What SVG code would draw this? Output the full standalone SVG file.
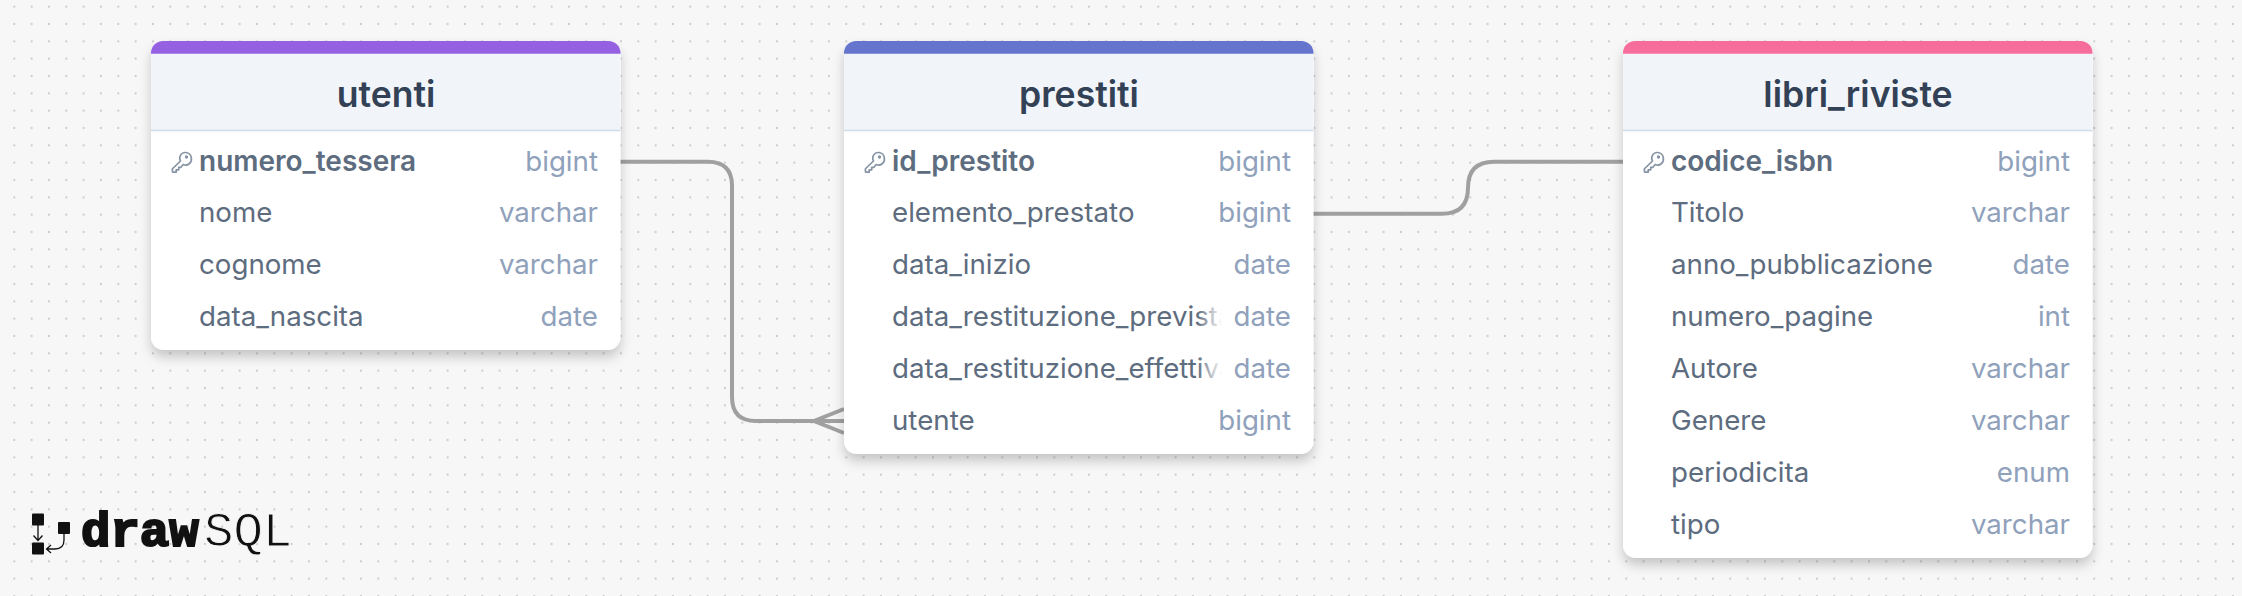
<svg xmlns="http://www.w3.org/2000/svg" xmlns:xlink="http://www.w3.org/1999/xlink" width="2242" height="596" viewBox="0 0 2242 596">
<style>
.card{fill:#fff;filter:url(#sh)}
.hd{fill:#f1f5f9}
.ln{stroke:#cfdcea;stroke-width:1.5;fill:none}
text{font-family:Inter,"Liberation Sans",sans-serif}
.t{font-size:35.6px;font-weight:600;fill:#334156;text-anchor:middle}
.f{font-size:27.7px;fill:#5d6c7e}
.k{font-size:28px;font-weight:600}
.y{font-size:27.7px;fill:#8fa1bb;text-anchor:end}
.c{fill:none;stroke:#a0a0a0;stroke-width:4}
.key{fill:none;stroke:#8593a4;stroke-width:1.7;stroke-linejoin:round;stroke-linecap:round}
.lg{font-family:"Liberation Mono",monospace;font-size:49px;fill:#111}
</style>
<defs>
<pattern id="dots" width="17.333" height="17.333" patternUnits="userSpaceOnUse" x="5.64" y="-1.97">
<circle cx="8.67" cy="8.67" r="1.1" fill="#cbcbcb"/>
</pattern>
<filter id="sh" x="-10%" y="-10%" width="120%" height="125%">
<feDropShadow dx="0" dy="7" stdDeviation="6" flood-color="#000" flood-opacity=".2"/>
</filter>
<linearGradient id="fade"><stop offset="0" stop-color="#fff" stop-opacity="0"/><stop offset="1" stop-color="#fff"/></linearGradient>
<clipPath id="cp"><rect x="880" y="280" width="342" height="120"/></clipPath>
<symbol id="ik" viewBox="0 0 20 20" overflow="visible">
<path class="key" d="M19.800 6a5.800 5.800 0 0 0-11.400-1.200 5.800 5.800 0 0 0 .6 4.200L1.200 16.500a1 1 0 0 0-.3.7v2a1 1 0 0 0 1 1h2.800v-2.400h2.500v-2.500h2.200l2.300-2.800a5.800 5.800 0 0 0 8.100-6.500z"/>
<circle class="key" cx="15" cy="5" r=".8"/>
</symbol>
</defs>
<rect width="2242" height="596" fill="#f7f7f7"/>
<rect width="2242" height="596" fill="url(#dots)"/>

<g id="connectors">
<path class="c" d="M620 161.700H708Q732 161.700 732 185.700V397Q732 421 756 421H844"/>
<path class="c" d="M844 409L814 421L844 433"/>
<path class="c" d="M1313 213.700H1442Q1468 213.700 1468 187.700Q1468 161.700 1494 161.700H1623"/>
</g>

<g id="utenti">
<rect class="card" x="151" y="41" width="469.500" height="309" rx="13"/>
<rect class="hd" x="151" y="53" width="469.500" height="77"/>
<path d="M151 53.700V53a12 12 0 0 1 12-12H608.500a12 12 0 0 1 12 12v.7z" fill="#9561e2"/>
<path class="ln" d="M151 130.500H620.500"/>
<text class="t" x="386" y="106.700">utenti</text>
<use xlink:href="#ik" href="#ik" x="171.500" y="152" width="20" height="20"/>
<text class="f k" x="199" y="170.500">numero_tessera</text><text class="y" x="598" y="170.500">bigint</text>
<text class="f" x="199" y="222">nome</text><text class="y" x="598" y="222">varchar</text>
<text class="f" x="199" y="274">cognome</text><text class="y" x="598" y="274">varchar</text>
<text class="f" x="199" y="326">data_nascita</text><text class="y" x="598" y="326">date</text>
</g>

<g id="prestiti">
<rect class="card" x="844" y="41" width="469.500" height="413" rx="13"/>
<rect class="hd" x="844" y="53" width="469.500" height="77"/>
<path d="M844 53.700V53a12 12 0 0 1 12-12H1301.500a12 12 0 0 1 12 12v.7z" fill="#6574cd"/>
<path class="ln" d="M844 130.500H1313.500"/>
<text class="t" x="1079" y="106.700">prestiti</text>
<use xlink:href="#ik" href="#ik" x="864.500" y="152" width="20" height="20"/>
<text class="f k" x="892" y="170.500">id_prestito</text><text class="y" x="1291" y="170.500">bigint</text>
<text class="f" x="892" y="222">elemento_prestato</text><text class="y" x="1291" y="222">bigint</text>
<text class="f" x="892" y="274">data_inizio</text><text class="y" x="1291" y="274">date</text>
<g clip-path="url(#cp)">
<text class="f" x="892" y="326">data_restituzione_prevista</text>
<text class="f" x="892" y="378">data_restituzione_effettiva</text>
<rect x="1197" y="295" width="25" height="100" fill="url(#fade)"/>
</g>
<text class="y" x="1291" y="326">date</text>
<text class="y" x="1291" y="378">date</text>
<text class="f" x="892" y="430">utente</text><text class="y" x="1291" y="430">bigint</text>
</g>

<g id="libri_riviste">
<rect class="card" x="1623" y="41" width="469.500" height="517" rx="13"/>
<rect class="hd" x="1623" y="53" width="469.500" height="77"/>
<path d="M1623 53.700V53a12 12 0 0 1 12-12H2080.500a12 12 0 0 1 12 12v.7z" fill="#f66d9b"/>
<path class="ln" d="M1623 130.500H2092.500"/>
<text class="t" x="1858" y="106.700">libri_riviste</text>
<use xlink:href="#ik" href="#ik" x="1643.500" y="152" width="20" height="20"/>
<text class="f k" x="1671" y="170.500">codice_isbn</text><text class="y" x="2070" y="170.500">bigint</text>
<text class="f" x="1671" y="222">Titolo</text><text class="y" x="2070" y="222">varchar</text>
<text class="f" x="1671" y="274">anno_pubblicazione</text><text class="y" x="2070" y="274">date</text>
<text class="f" x="1671" y="326">numero_pagine</text><text class="y" x="2070" y="326">int</text>
<text class="f" x="1671" y="378">Autore</text><text class="y" x="2070" y="378">varchar</text>
<text class="f" x="1671" y="430">Genere</text><text class="y" x="2070" y="430">varchar</text>
<text class="f" x="1671" y="482">periodicita</text><text class="y" x="2070" y="482">enum</text>
<text class="f" x="1671" y="534">tipo</text><text class="y" x="2070" y="534">varchar</text>
</g>

<g id="logo">
<rect x="32" y="513.500" width="12" height="12" rx="1" fill="#111"/>
<rect x="32" y="542.500" width="12" height="12" rx="1" fill="#111"/>
<rect x="58" y="522" width="12" height="12" rx="1" fill="#111"/>
<path d="M38 525V540M33.500 535.500L38 540.500L42.500 535.500M64 534V540Q64 549 55 549H47M51 545L46.500 549L51 553" fill="none" stroke="#111" stroke-width="1.300"/>
<text class="lg" x="81" y="546" font-weight="700" stroke="#111" stroke-width="2.200">draw</text>
<text class="lg" x="204" y="546" stroke="#f7f7f7" stroke-width=".9">SQL</text>
</g>
</svg>
